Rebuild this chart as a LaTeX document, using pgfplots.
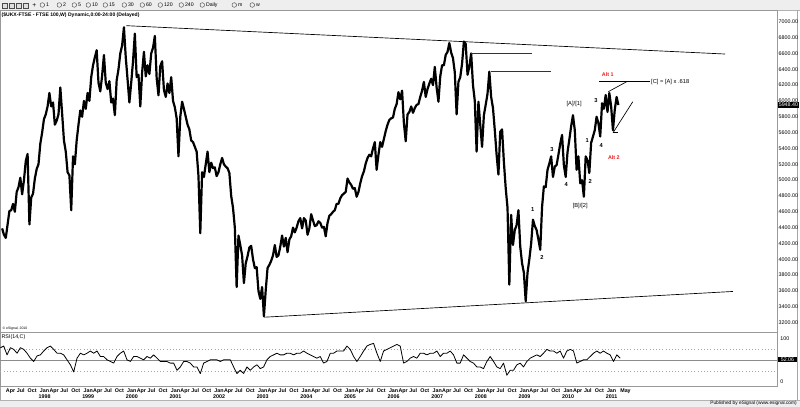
\documentclass[border=0pt]{standalone}
\usepackage{fontspec}
\setmainfont{Liberation Sans}
\usepackage{pgfplots}
\usepackage{pgfplotstable}
\pgfplotsset{compat=1.18}
\definecolor{altred}{RGB}{235,30,30}
\definecolor{barbg}{RGB}{238,238,238}

% FTSE 100, semi-monthly samples from Mar 1997 (step 1/24 year)
\pgfplotstableread[row sep=\\]{P\\
4390\\4310\\4270\\4440\\4610\\4620\\4700\\4600\\4850\\4910\\5030\\4820\\5000\\5240\\5330\\4440\\4780\\4830\\5020\\5140\\
5200\\5460\\5600\\5770\\5830\\5930\\6100\\5930\\5980\\5700\\5750\\5830\\6170\\5840\\5500\\5360\\5100\\5060\\4620\\5300\\5200\\5500\\5700\\5880\\
5800\\6000\\5900\\6100\\6000\\6300\\6450\\6550\\6640\\6230\\6120\\6320\\6580\\6230\\6150\\6250\\5980\\6030\\5820\\6260\\6400\\6600\\6700\\6930\\
6550\\6270\\5980\\6230\\6500\\6850\\6300\\6330\\5930\\6360\\6620\\6310\\6450\\6340\\6600\\6670\\6820\\6290\\6070\\6440\\6500\\6140\\6050\\6220\\
6100\\6300\\6000\\5920\\5780\\5300\\5800\\5990\\5900\\5800\\5700\\5640\\5500\\5480\\5420\\5360\\5050\\4330\\5100\\5040\\5200\\5360\\5100\\5220\\
5150\\5160\\5050\\5100\\5200\\5280\\5200\\5170\\5150\\5090\\4800\\4650\\4400\\3650\\4300\\4180\\4050\\3700\\3950\\4040\\4150\\4170\\4000\\3890\\
3900\\3600\\3500\\3650\\3280\\3610\\3890\\3930\\3980\\4050\\4180\\4030\\4050\\4160\\4300\\4160\\4270\\4090\\4250\\4290\\4400\\4340\\4400\\4480\\
4520\\4390\\4520\\4490\\4310\\4390\\4570\\4490\\4420\\4430\\4480\\4460\\4400\\4410\\4290\\4460\\4550\\4570\\4600\\4620\\4700\\4700\\4770\\4810\\
4830\\4850\\5020\\4970\\4940\\4890\\4900\\4790\\4850\\4960\\5050\\5110\\5210\\5280\\5320\\5300\\5400\\5480\\5130\\5320\\5480\\5420\\5520\\5620\\
5700\\5760\\5780\\5790\\5900\\5960\\6110\\6020\\6130\\5720\\5490\\5830\\5860\\5930\\5850\\5910\\5950\\5960\\6050\\6130\\6240\\6050\\6150\\6220\\
6280\\6200\\6430\\6170\\5990\\6310\\6450\\6450\\6580\\6620\\6730\\6610\\6540\\6360\\5830\\6240\\6300\\6470\\6750\\6720\\6330\\6430\\6600\\6200\\
6000\\5360\\5990\\5700\\5420\\5820\\5950\\6090\\6370\\6050\\5910\\5630\\5320\\5070\\5610\\5640\\5230\\4900\\4650\\3680\\4560\\4180\\4370\\4430\\
4620\\4160\\3950\\3830\\3470\\3830\\4000\\4200\\4500\\4420\\4370\\4250\\4120\\4660\\4920\\4910\\5130\\5210\\5300\\5040\\5170\\5190\\5320\\5460\\
5570\\5190\\5040\\5350\\5510\\5680\\5820\\5630\\5130\\5300\\4960\\5000\\4790\\5300\\5250\\5090\\5470\\5550\\5630\\5800\\5720\\5550\\5970\\5900\\
6075\\5860\\6100\\5930\\5630\\5890\\6050\\5948\\
}\pricedata

% RSI(14,C), samples every 0.07637 year from 1997.13
\pgfplotstableread[row sep=\\]{R\\
72\\75\\59\\72\\69\\62\\72\\69\\62\\53\\47\\57\\59\\66\\72\\75\\69\\62\\62\\59\\
50\\41\\28\\53\\62\\59\\62\\66\\62\\66\\56\\56\\50\\47\\44\\56\\62\\66\\50\\47\\
56\\56\\53\\50\\56\\53\\59\\53\\47\\47\\47\\44\\44\\31\\37\\47\\47\\44\\37\\37\\
25\\44\\47\\50\\50\\50\\47\\50\\50\\50\\37\\25\\31\\25\\37\\31\\37\\41\\34\\37\\
50\\56\\59\\62\\59\\59\\62\\62\\59\\62\\62\\66\\62\\59\\56\\53\\56\\44\\47\\62\\
62\\66\\66\\66\\75\\69\\56\\47\\56\\66\\75\\78\\80\\62\\47\\66\\69\\72\\75\\78\\75\\
44\\47\\53\\56\\53\\62\\62\\59\\62\\62\\66\\56\\62\\62\\66\\59\\44\\44\\59\\53\\
47\\44\\37\\37\\34\\47\\56\\47\\37\\34\\44\\22\\31\\31\\41\\44\\37\\47\\53\\56\\
59\\56\\62\\69\\66\\66\\62\\66\\53\\66\\69\\66\\44\\47\\50\\50\\56\\62\\66\\62\\
66\\62\\59\\47\\59\\53\\
}\rsidata

\newcommand{\fs}[1]{\fontsize{#1}{#1}\selectfont}

\begin{document}
\begin{tikzpicture}
\begin{scope}[x=0.75pt,y=0.75pt]
\useasboundingbox (0,0) rectangle (800,407);
\fill[white] (0,0) rectangle (800,407);
% toolbar
\fill[barbg] (0,397) rectangle (800,407);
\draw[gray!60] (0,397) -- (800,397);
\foreach \ix in {2,9,16,23} {\draw[gray!60!black, fill=gray!25, line width=0.3pt] (\ix,399) rectangle ++(5,5);}
\node[font=\fs{5}, inner sep=0] at (34,401.8) {+};
\foreach \cx/\lab in {42/1,59/2,74/5,88/10,105/15,124/30,142/60,160/120,181/240,202/Daily,234/m,252/w}
  {\draw[gray!50!black, line width=0.3pt] (\cx,402) circle (2.3);
   \node[anchor=west, inner sep=0, font=\fs{3.9}] at (\cx+3.5,402) {\lab};}
% title
\node[anchor=west, inner sep=0, font=\bfseries\fs{3.8}] at (1,392.3) {(\$UKX-FTSE - FTSE 100,W) Dynamic,0:00-24:00 (Delayed)};
% bottom strip
\fill[barbg] (0,0) rectangle (800,6.5);
\draw[gray!60] (0,6.5) -- (800,6.5);
\node[anchor=east, inner sep=0, font=\fs{3.6}] at (797,3.2) {Published by eSignal (www.esignal.com)};
% frame lines
\draw[gray!70, line width=0.4pt] (797,6.5) -- (797,397);
\draw[gray!70, line width=0.4pt] (0.3,6.5) -- (0.3,397);
\node[anchor=west, inner sep=0, font=\fs{2.6}] at (2,78.6) {\textcopyright\ eSignal, 2010};
\node[anchor=west, inner sep=0, font=\fs{4}] at (1,69.5) {RSI(14,C)};
\end{scope}

% ---------- price panel ----------
\begin{axis}[
  at={(0pt,56.25pt)}, anchor=south west, scale only axis,
  width=582.75pt, height=241.5pt,
  xmin=1997.1294, xmax=2014.930, ymin=3084, ymax=7148,
  axis line style={draw=gray!80, line width=0.4pt},
  xtick=\empty,
  ytick={3200,3400,3600,3800,4000,4200,4400,4600,4800,5000,5200,5400,5600,5800,6000,6200,6400,6600,6800,7000},
  yticklabels={3200.00,3400.00,3600.00,3800.00,4000.00,4200.00,4400.00,4600.00,4800.00,5000.00,5200.00,5400.00,5600.00,5800.00,6000.00,6200.00,6400.00,6600.00,6800.00,7000.00},
  yticklabel pos=right,
  ytick style={draw=none},
  yticklabel style={font=\fs{4}, anchor=west, inner sep=0pt, xshift=1.1pt},
  clip=false,
]
\addplot[black, line width=1.65pt, line join=round] table[x expr={1997.17+\coordindex/24}, y=P] {\pricedata};
% trend lines
\addplot[black, line width=0.5pt] coordinates {(2000.016,6950) (2013.74,6592)};
\addplot[black, line width=0.5pt] coordinates {(2003.18,3269) (2013.92,3594)};
\addplot[black!80, line width=0.5pt] coordinates {(2007.92,6605) (2009.32,6605)};
\addplot[black!80, line width=0.5pt] coordinates {(2008.37,6374) (2009.745,6374)};
% Alt 1
\addplot[black, line width=0.5pt] coordinates {(2010.859,6243) (2012.03,6243)};
\addplot[black, line width=0.5pt] coordinates {(2011.065,6117) (2011.487,6243)};
% Alt 2
\addplot[black, line width=0.5pt] coordinates {(2011.166,5599) (2011.288,5599)};
\addplot[black, line width=0.5pt] coordinates {(2011.173,5599) (2011.624,5990)};
% labels
\node[font=\bfseries\fs{4}, text=altred, inner sep=0] at (axis cs:2011.05,6327) {Alt 1};
\node[font=\bfseries\fs{4}, text=altred, inner sep=0] at (axis cs:2011.19,5280) {Alt 2};
\node[anchor=west, font=\fs{4.3}, inner sep=0] at (axis cs:2012.04,6243) {[C] = [A] x .618};
\node[font=\fs{4.3}, inner sep=0] at (axis cs:2010.28,5961) {[A]/[1]};
\node[font=\fs{4.3}, inner sep=0] at (axis cs:2010.42,4674) {[B]/[2]};
\node[font=\bfseries\fs{4.3}, inner sep=0] at (axis cs:2010.78,6000) {3};
\node[font=\bfseries\fs{4.3}, inner sep=0] at (axis cs:2010.58,5495) {1};
\node[font=\bfseries\fs{4.3}, inner sep=0] at (axis cs:2010.90,5431) {4};
\node[font=\bfseries\fs{4.3}, inner sep=0] at (axis cs:2009.77,5381) {3};
\node[font=\bfseries\fs{4.3}, inner sep=0] at (axis cs:2010.10,4939) {4};
\node[font=\bfseries\fs{4.3}, inner sep=0] at (axis cs:2010.65,4977) {2};
\node[font=\bfseries\fs{4.3}, inner sep=0] at (axis cs:2009.33,4624) {1};
\node[font=\bfseries\fs{4.3}, inner sep=0] at (axis cs:2009.54,4022) {2};
% last price box
\node[anchor=west, fill=black, text=white, font=\fs{4}, inner sep=0.5pt, minimum width=14pt] at (axis cs:2014.95,5948.4) {5948.40};
\end{axis}

% ---------- RSI panel ----------
\begin{axis}[
  at={(0pt,15.75pt)}, anchor=south west, scale only axis,
  width=582.75pt, height=40.125pt,
  xmin=1997.1294, xmax=2014.930, ymin=2.7, ymax=100,
  axis line style={draw=gray!80, line width=0.4pt},
  ytick=\empty,
  xtick={1997.25,1997.5,1997.75,1998,1998.25,1998.5,1998.75,1999,1999.25,1999.5,1999.75,2000,2000.25,2000.5,2000.75,2001,2001.25,2001.5,2001.75,2002,2002.25,2002.5,2002.75,2003,2003.25,2003.5,2003.75,2004,2004.25,2004.5,2004.75,2005,2005.25,2005.5,2005.75,2006,2006.25,2006.5,2006.75,2007,2007.25,2007.5,2007.75,2008,2008.25,2008.5,2008.75,2009,2009.25,2009.5,2009.75,2010,2010.25,2010.5,2010.75,2011,2011.333},
  xticklabels={Apr,Jul,Oct,{Jan\\1998},Apr,Jul,Oct,{Jan\\1999},Apr,Jul,Oct,{Jan\\2000},Apr,Jul,Oct,{Jan\\2001},Apr,Jul,Oct,{Jan\\2002},Apr,Jul,Oct,{Jan\\2003},Apr,Jul,Oct,{Jan\\2004},Apr,Jul,Oct,{Jan\\2005},Apr,Jul,Oct,{Jan\\2006},Apr,Jul,Oct,{Jan\\2007},Apr,Jul,Oct,{Jan\\2008},Apr,Jul,Oct,{Jan\\2009},Apr,Jul,Oct,{Jan\\2010},Apr,Jul,Oct,{Jan\\2011},May},
  xtick style={draw=none},
  xticklabel style={font=\bfseries\fs{4}, anchor=north west, align=center, inner sep=0pt, yshift=-2.2pt},
  clip=false,
]
\addplot[gray!70, dotted, line width=0.4pt] coordinates {(1997.1294,70) (2014.93,70)};
\addplot[gray!90, line width=0.4pt] coordinates {(1997.1294,50) (2014.93,50)};
\addplot[gray!70, dotted, line width=0.4pt] coordinates {(1997.1294,30) (2014.93,30)};
\addplot[black, line width=0.6pt, line join=round] table[x expr={1997.13+\coordindex*0.07637}, y=R] {\rsidata};
\node[anchor=west, font=\fs{4}, inner sep=0] at (axis cs:2015.0,89) {100};
\node[anchor=west, font=\fs{4}, inner sep=0] at (axis cs:2015.0,10) {0};
\node[anchor=west, fill=black, text=white, font=\fs{4}, inner sep=0.5pt, minimum width=14pt] at (axis cs:2014.95,51) {52.06};
\end{axis}
\end{tikzpicture}
\end{document}
